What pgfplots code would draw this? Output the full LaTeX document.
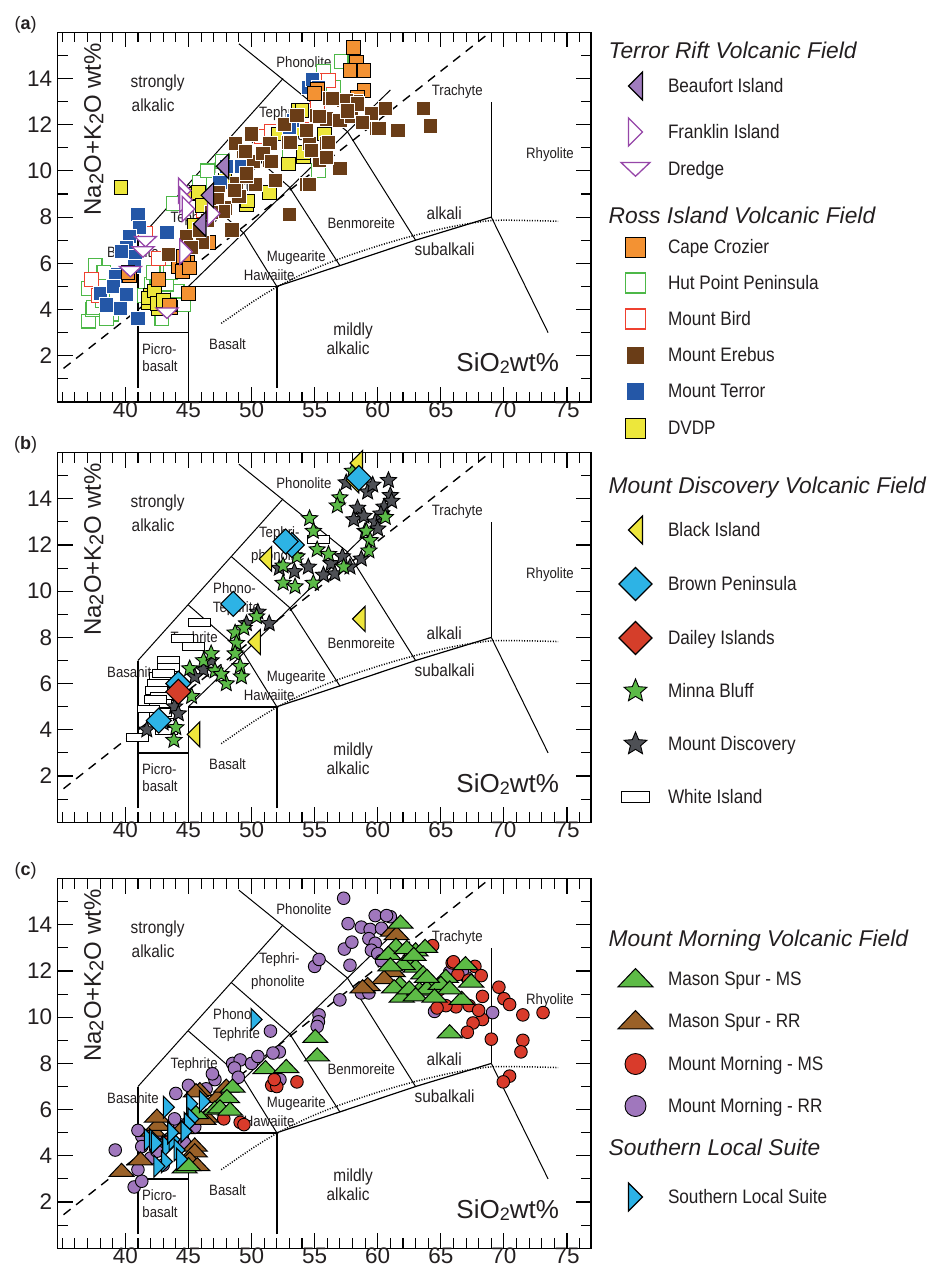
\documentclass[border=0pt]{standalone}
\usepackage{fontspec}
\setmainfont{Liberation Sans}
\newfontfamily\narrowfont[FakeStretch=0.88]{Liberation Sans}
\usepackage{pgfplots}
\pgfplotsset{compat=1.18}
\usetikzlibrary{plotmarks}

\definecolor{txt}{HTML}{231F20}
\definecolor{cCroz}{HTML}{F39233}
\definecolor{hutG}{HTML}{4DB848}
\definecolor{birdR}{HTML}{EF4130}
\definecolor{ereb}{HTML}{6A3D17}
\definecolor{terr}{HTML}{2457A7}
\definecolor{dvdp}{HTML}{EDE73B}
\definecolor{beauf}{HTML}{A07CBE}
\definecolor{purpL}{HTML}{9646A8}
\definecolor{blkI}{HTML}{EEE63C}
\definecolor{brnP}{HTML}{2DB3E5}
\definecolor{dail}{HTML}{D53E2A}
\definecolor{minna}{HTML}{5BBA47}
\definecolor{mdisc}{HTML}{4E5055}
\definecolor{msG}{HTML}{5DBB46}
\definecolor{msB}{HTML}{9A6128}
\definecolor{mmR}{HTML}{D93B2B}
\definecolor{mmP}{HTML}{A077BD}
\definecolor{slsB}{HTML}{2CB2E6}

\newcommand\labfont{\narrowfont\fontsize{15bp}{17bp}\selectfont}
\newcommand\bigfont{\narrowfont\fontsize{17.5bp}{20bp}\selectfont}
\newcommand\tickfont{\fontsize{22.5bp}{24bp}\selectfont}
\newcommand\legfont{\narrowfont\fontsize{19.5bp}{22bp}\selectfont}
\newcommand\headfont{\rmfamily\fontsize{22.8bp}{26bp}\selectfont\itshape}
% legend row height/depth
\newcommand\LE[3]{\addlegendentry[text height=#1bp, text depth=#2bp]{#3}}

\pgfdeclareplotmark{ltri}{%
  \pgfpathmoveto{\pgfqpoint{-.5\pgfplotmarksize}{0pt}}%
  \pgfpathlineto{\pgfqpoint{.5\pgfplotmarksize}{\pgfplotmarksize}}%
  \pgfpathlineto{\pgfqpoint{.5\pgfplotmarksize}{-\pgfplotmarksize}}%
  \pgfpathclose\pgfusepathqfillstroke}
\pgfdeclareplotmark{rtri}{%
  \pgfpathmoveto{\pgfqpoint{.5\pgfplotmarksize}{0pt}}%
  \pgfpathlineto{\pgfqpoint{-.5\pgfplotmarksize}{\pgfplotmarksize}}%
  \pgfpathlineto{\pgfqpoint{-.5\pgfplotmarksize}{-\pgfplotmarksize}}%
  \pgfpathclose\pgfusepathqfillstroke}
\pgfdeclareplotmark{dtri}{%
  \pgfpathmoveto{\pgfqpoint{-\pgfplotmarksize}{.45\pgfplotmarksize}}%
  \pgfpathlineto{\pgfqpoint{\pgfplotmarksize}{.45\pgfplotmarksize}}%
  \pgfpathlineto{\pgfqpoint{0pt}{-.5\pgfplotmarksize}}%
  \pgfpathclose\pgfusepathqfillstroke}
\pgfdeclareplotmark{utri}{%
  \pgfpathmoveto{\pgfqpoint{-\pgfplotmarksize}{-.45\pgfplotmarksize}}%
  \pgfpathlineto{\pgfqpoint{\pgfplotmarksize}{-.45\pgfplotmarksize}}%
  \pgfpathlineto{\pgfqpoint{0pt}{.6\pgfplotmarksize}}%
  \pgfpathclose\pgfusepathqfillstroke}
\pgfdeclareplotmark{mdia}{%
  \pgfpathmoveto{\pgfqpoint{0pt}{\pgfplotmarksize}}%
  \pgfpathlineto{\pgfqpoint{\pgfplotmarksize}{0pt}}%
  \pgfpathlineto{\pgfqpoint{0pt}{-\pgfplotmarksize}}%
  \pgfpathlineto{\pgfqpoint{-\pgfplotmarksize}{0pt}}%
  \pgfpathclose\pgfusepathqfillstroke}
\pgfdeclareplotmark{wrect}{%
  \pgfpathrectanglecorners{\pgfqpoint{-\pgfplotmarksize}{-.36\pgfplotmarksize}}{\pgfqpoint{\pgfplotmarksize}{.36\pgfplotmarksize}}%
  \pgfusepathqfillstroke}
\pgfdeclareplotmark{fstar}{%
  \pgfpathmoveto{\pgfqpoint{0pt}{\pgfplotmarksize}}%
  \pgfpathlineto{\pgfqpoint{-.2645\pgfplotmarksize}{.3641\pgfplotmarksize}}%
  \pgfpathlineto{\pgfqpoint{-.9511\pgfplotmarksize}{.3090\pgfplotmarksize}}%
  \pgfpathlineto{\pgfqpoint{-.4280\pgfplotmarksize}{-.1391\pgfplotmarksize}}%
  \pgfpathlineto{\pgfqpoint{-.5878\pgfplotmarksize}{-.8090\pgfplotmarksize}}%
  \pgfpathlineto{\pgfqpoint{0pt}{-.45\pgfplotmarksize}}%
  \pgfpathlineto{\pgfqpoint{.5878\pgfplotmarksize}{-.8090\pgfplotmarksize}}%
  \pgfpathlineto{\pgfqpoint{.4280\pgfplotmarksize}{-.1391\pgfplotmarksize}}%
  \pgfpathlineto{\pgfqpoint{.9511\pgfplotmarksize}{.3090\pgfplotmarksize}}%
  \pgfpathlineto{\pgfqpoint{.2645\pgfplotmarksize}{.3641\pgfplotmarksize}}%
  \pgfpathclose\pgfusepathqfillstroke}

\pgfplotsset{
  limg/.style={legend image code/.code={\draw[##1] plot coordinates {(0bp,6.5bp)};}},
  sCroz/.style={only marks, mark=square*, mark size=6.9bp, mark options={solid, fill=cCroz, draw=black, line width=0.9bp}},
  sHut/.style={only marks, mark=square*, mark size=6.9bp, mark options={solid, fill=white, draw=hutG, line width=1.1bp}},
  sBird/.style={only marks, mark=square*, mark size=6.9bp, mark options={solid, fill=white, draw=birdR, line width=1.1bp}},
  sEreb/.style={only marks, mark=square*, mark size=7.1bp, mark options={solid, fill=ereb, draw=white, line width=0.8bp}},
  sTerr/.style={only marks, mark=square*, mark size=7.1bp, mark options={solid, fill=terr, draw=white, line width=0.8bp}},
  sDvdp/.style={only marks, mark=square*, mark size=6.9bp, mark options={solid, fill=dvdp, draw=black, line width=0.9bp}},
  sBeau/.style={only marks, mark=ltri, mark size=12.5bp, mark options={solid, fill=beauf, draw=black, line width=1.1bp}},
  sFrank/.style={only marks, mark=rtri, mark size=12.5bp, mark options={solid, fill=white, draw=purpL, line width=1.3bp}},
  sDred/.style={only marks, mark=dtri, mark size=11bp, mark options={solid, fill=white, draw=purpL, line width=1.3bp}},
  sBlk/.style={only marks, mark=ltri, mark size=12.5bp, mark options={solid, fill=blkI, draw=black, line width=1.1bp}},
  sBrn/.style={only marks, mark=mdia, mark size=12.5bp, mark options={solid, fill=brnP, draw=black, line width=1.1bp}},
  sDai/.style={only marks, mark=mdia, mark size=12.5bp, mark options={solid, fill=dail, draw=black, line width=1.1bp}},
  sMin/.style={only marks, mark=fstar, mark size=8.5bp, mark options={solid, fill=minna, draw=black, line width=0.9bp}},
  sMdi/.style={only marks, mark=fstar, mark size=8.5bp, mark options={solid, fill=mdisc, draw=black, line width=0.9bp}},
  sWhi/.style={only marks, mark=wrect, mark size=11bp, mark options={solid, fill=white, draw=black, line width=1bp}},
  sMSg/.style={only marks, mark=utri, mark size=12.5bp, mark options={solid, fill=msG, draw=black, line width=1bp}},
  sMSb/.style={only marks, mark=utri, mark size=12.5bp, mark options={solid, fill=msB, draw=black, line width=1bp}},
  sMMr/.style={only marks, mark=*, mark size=6.3bp, mark options={solid, fill=mmR, draw=black, line width=0.9bp}},
  sMMp/.style={only marks, mark=*, mark size=6.3bp, mark options={solid, fill=mmP, draw=black, line width=0.9bp}},
  sSls/.style={only marks, mark=rtri, mark size=11bp, mark options={solid, fill=slsB, draw=black, line width=1.1bp}},
  common/.style={
    scale only axis, width=533.3bp, height=369.6bp,
    xmin=34.64, xmax=76.9, ymin=0, ymax=16,
    xtick={40,45,...,75}, minor xtick={35,36,...,76},
    ytick={2,4,...,14}, minor ytick={1,3,...,15},
    tick align=inside, major tick length=15bp, minor tick length=10bp,
    tick style={line width=1.1bp, black},
    axis line style={line width=1.3bp},
    ticklabel style={font=\tickfont, text=txt},
    yticklabel style={xshift=-2bp},
    xticklabel style={yshift=3.5bp},
    /pgf/number format/assume math mode=true,
    legend cell align=left,
    legend style={draw=none, fill=none, inner sep=0pt, outer sep=0pt, row sep=0pt,
      font=\legfont, text=txt, cells={anchor=base west}, nodes={inner sep=0pt, outer sep=0pt}},
  },
}

\newcommand\TAS{%
  \draw[line width=1.4bp] (axis cs:41,0.6) -- (axis cs:41,7);
  \draw[line width=1.4bp] (axis cs:41,3) -- (axis cs:45,3);
  \draw[line width=1.6bp] (axis cs:45,0.6) -- (axis cs:45,5) -- (axis cs:52,5);
  \draw[line width=1.6bp] (axis cs:52,0.6) -- (axis cs:52,5);
  \draw[line width=1.2bp] (axis cs:52,5) -- (axis cs:57,5.9) -- (axis cs:63,7) -- (axis cs:69,8);
  \draw[line width=1.6bp] (axis cs:69,8) -- (axis cs:69,13);
  \draw[line width=1bp] (axis cs:69,8) -- (axis cs:73.5,3);
  \draw[line width=1bp] (axis cs:41,7) -- (axis cs:52.5,14);
  \draw[line width=1bp] (axis cs:49,15.5) -- (axis cs:57.6,11.7) -- (axis cs:63,7);
  \draw[line width=1bp] (axis cs:45,9.4) -- (axis cs:49.4,7.3) -- (axis cs:52,5);
  \draw[line width=1bp] (axis cs:48.4,11.5) -- (axis cs:53,9.3) -- (axis cs:57,5.9);
  \draw[line width=1bp] (axis cs:45,5) -- (axis cs:61,13.5);
  \draw[line width=1.4bp, dash pattern=on 9bp off 7bp] (axis cs:35.1,1.45) -- (axis cs:69,16.04);
  \addplot[forget plot, smooth, no markers, line width=1.5bp, dash pattern=on 1bp off 1.6bp]
    coordinates {(47.6,3.4)(50,4.3)(52,4.97)(54.5,5.65)(57,6.2)(60,6.75)(63,7.22)(66,7.6)(69,7.85)(72,7.85)(74.3,7.82)};
  \node[font=\labfont, text=txt] at (axis cs:54.15,14.7) {Phonolite};
  \node[font=\labfont, text=txt] at (axis cs:66.3,13.45) {Trachyte};
  \node[font=\labfont, text=txt] at (axis cs:73.65,10.7) {Rhyolite};
  \node[font=\labfont, text=txt] at (axis cs:58.7,7.75) {Benmoreite};
  \node[font=\labfont, text=txt] at (axis cs:53.55,6.25) {Mugearite};
  \node[font=\labfont, text=txt] at (axis cs:51.4,5.5) {Hawaiite};
  \node[font=\labfont, text=txt] at (axis cs:48.1,2.5) {Basalt};
  \node[font=\labfont, text=txt] at (axis cs:42.7,2.28) {Picro-};
  \node[font=\labfont, text=txt] at (axis cs:42.75,1.57) {basalt};
  \node[font=\labfont, text=txt] at (axis cs:52.2,12.5) {Tephri-};
  \node[font=\labfont, text=txt] at (axis cs:52.1,11.5) {phonolite};
  \node[font=\labfont, text=txt] at (axis cs:48.65,10.12) {Phono-};
  \node[font=\labfont, text=txt] at (axis cs:48.8,9.26) {Tephrite};
  \node[font=\labfont, text=txt] at (axis cs:45.45,7.95) {Tephrite};
  \node[font=\labfont, text=txt] at (axis cs:40.6,6.5) {Basanite};
  \node[font=\bigfont, text=txt] at (axis cs:42.56,13.82) {strongly};
  \node[font=\bigfont, text=txt] at (axis cs:42.2,12.85) {alkalic};
  \node[font=\bigfont, text=txt] at (axis cs:65.27,8.16) {alkali};
  \node[font=\bigfont, text=txt] at (axis cs:65.3,6.6) {subalkali};
  \node[font=\bigfont, text=txt] at (axis cs:58.05,3.08) {mildly};
  \node[font=\bigfont, text=txt] at (axis cs:57.65,2.32) {alkalic};
  \node[font=\fontsize{26bp}{28bp}\selectfont, text=txt] at (axis cs:70.3,1.67) {SiO\raisebox{-0.08em}{\fontsize{18bp}{18bp}\selectfont 2}wt\%};
  \node[rotate=90, font=\fontsize{24bp}{26bp}\selectfont, text=txt] at (axis cs:37.5,11.8)
    {Na\raisebox{-0.1em}{\fontsize{20bp}{20bp}\selectfont 2}O+K\raisebox{-0.1em}{\fontsize{20bp}{20bp}\selectfont 2}O wt\%};
}

\begin{document}
\begin{tikzpicture}
\path[use as bounding box] (0,0) rectangle (932bp,-1270bp);
\node[font=\fontsize{18bp}{20bp}\selectfont, text=txt] at (25.6bp,-25bp) {(\textbf{a})};
\node[font=\fontsize{18bp}{20bp}\selectfont, text=txt] at (25.6bp,-445bp) {(\textbf{b})};
\node[font=\fontsize{18bp}{20bp}\selectfont, text=txt] at (25.6bp,-871bp) {(\textbf{c})};

% ---------------- panel (a)
\begin{axis}[common, at={(57.7bp,-401.9bp)}, anchor=south west,
  legend style={at={(1.05626,0.98999)}, anchor=north west, column sep=18bp}]
\addlegendimage{empty legend}\LE{22}{12.5}{\hspace*{-59.3bp}{\headfont Terror Rift Volcanic Field}}
\addlegendimage{sBeau, mark size=14bp, limg}\LE{22}{24}{Beaufort Island}
\addlegendimage{sFrank, mark size=14bp, limg}\LE{22}{15}{Franklin Island}
\addlegendimage{sDred, mark size=14.5bp, limg}\LE{22}{25.5}{Dredge}
\addlegendimage{empty legend}\LE{22}{8.5}{\hspace*{-59.3bp}{\headfont Ross Island Volcanic Field}}
\addlegendimage{sCroz, mark size=10bp, limg}\LE{22}{14}{Cape Crozier}
\addlegendimage{sHut, mark size=10bp, limg}\LE{22}{14}{Hut Point Peninsula}
\addlegendimage{sBird, mark size=10bp, limg}\LE{22}{14}{Mount Bird}
\addlegendimage{sEreb, mark size=9bp, limg}\LE{22}{14}{Mount Erebus}
\addlegendimage{sTerr, mark size=9bp, limg}\LE{22}{15}{Mount Terror}
\addlegendimage{sDvdp, mark size=10bp, limg}\LE{22}{10}{DVDP}
\TAS
\addplot[sHut, forget plot] coordinates {(37.6,5.9)(37.1,4.9)(37.1,3.5)(37.4,4.0)(38.9,3.8)(38.3,5.6)(37.5,4.1)(38.2,4.4)(42.1,5.1)(42.5,5.3)(42.2,5.6)(42.7,4.2)(44.1,4.8)(42.9,3.6)(43.3,5.1)(43.8,8.6)(45.9,9.5)(46.5,10.0)(47.7,10.4)(53.0,10.7)(55.3,10.0)(55.4,13.3)(55.7,14.3)(56.5,13.6)(57.1,14.75)(41.5,4.6)(43.0,4.5)(38.5,3.6)(44.6,4.2)(43.6,5.6)};
\addplot[sBird, forget plot] coordinates {(37.3,5.3)(37.9,4.6)(41.6,7.3)(42.6,6.2)(46.2,8.3)(50.8,11.5)(51.6,11.7)(54.1,12.6)(54.5,12.4)(55.6,13.9)(56.1,13.9)(55.2,12.9)};
\addplot[sDvdp, forget plot] coordinates {(39.65,9.3)(41.8,4.3)(42.0,4.6)(42.6,4.05)(41.8,4.5)(42.3,4.8)(42.5,4.25)(43.0,4.4)(45.5,7.65)(45.4,9.0)(45.8,9.05)(49.6,8.55)(49.7,8.7)(51.4,9.05)(50.8,10.7)(52.1,11.6)(53.7,12.6)(54.1,10.6)(54.1,10.8)(55.8,11.6)(54.0,12.6)(52.9,10.3)(53.3,11.8)(46.1,8.5)(47.9,9.6)};
\addplot[sTerr, forget plot] coordinates {(41.0,8.1)(41.1,7.55)(43.3,7.35)(40.3,7.15)(40.1,6.7)(39.7,6.5)(40.8,6.3)(39.4,5.5)(40.7,5.85)(39.2,5.45)(38.0,4.7)(39.05,5.0)(40.1,4.65)(38.5,4.2)(39.6,4.05)(41.0,3.6)(48.0,10.2)(49.2,10.2)(47.5,9.5)(54.5,13.6)(54.8,13.95)(55.3,13.6)(53.3,12.2)(53.0,11.9)};
\addplot[sCroz, forget plot] coordinates {(58.05,15.35)(58.3,14.7)(58.9,14.35)(57.8,14.35)(58.9,13.5)(58.4,13.2)(55.2,13.55)(55.0,13.35)(45.0,4.7)(42.6,5.3)(43.6,4.1)(40.3,5.45)(40.2,5.6)(44.9,6.05)(44.2,5.85)(44.5,5.65)(44.6,6.3)(45.1,5.8)(43.5,4.2)(46.6,6.9)};
\addplot[sEreb, forget plot] coordinates {(56.2,13.15)(57.3,13.05)(58.3,13.0)(59.4,12.5)(59.9,11.85)(61.5,11.75)(55.15,12.4)(55.95,12.25)(57.0,12.2)(57.9,12.35)(52.5,12.0)(52.9,11.25)(54.6,11.2)(55.95,11.2)(54.35,11.75)(49.35,10.85)(50.8,10.75)(48.7,11.2)(50.0,11.6)(51.45,11.2)(51.45,10.45)(50.15,10.4)(48.8,9.45)(50.3,9.4)(49.6,9.75)(47.35,9.05)(47.9,8.4)(54.35,9.4)(57.0,10.1)(55.4,10.45)(53.0,8.1)(63.6,12.7)(64.15,11.95)(61.6,11.75)(60.1,11.85)(59.5,12.5)(54.6,9.4)(48.45,7.45)(46.1,6.9)(44.85,7.15)(43.4,6.4)(47.3,8.75)(47.75,8.25)(49.6,9.9)(49.5,10.85)(50.9,10.75)(51.55,10.4)(52.6,12.0)(53.1,11.25)(55.35,12.35)(56.1,11.25)(54.75,10.9)(55.95,10.6)(56.4,13.15)(57.5,13.05)(58.4,12.9)(46.5,7.85)(45.9,7.45)(49.0,8.9)(48.65,9.15)(46.8,8.2)(45.2,6.7)(58.8,12.1)(60.6,12.7)(53.6,12.4)(57.6,12.6)(51.9,9.6)};
\addplot[sDred, forget plot] coordinates {(41.6,6.95)(41.4,6.5)(40.4,5.65)(43.3,3.85)};
\addplot[sFrank, forget plot] coordinates {(44.7,9.15)(44.8,8.75)(45.0,8.35)(47.0,8.15)(44.8,6.5)};
\addplot[sBeau, forget plot] coordinates {(47.7,10.2)(46.5,8.95)(45.9,7.7)};
\end{axis}

% ---------------- panel (b)
\begin{axis}[common, at={(57.7bp,-822.2bp)}, anchor=south west,
  legend style={at={(1.05250,0.95022)}, anchor=north west, column sep=16bp}]
\addlegendimage{empty legend}\LE{22}{21.5}{\hspace*{-59.3bp}{\headfont Mount Discovery Volcanic Field}}
\addlegendimage{sBlk, mark size=14bp, limg}\LE{22}{31}{Black Island}
\addlegendimage{sBrn, mark size=16.5bp, limg}\LE{22}{31}{Brown Peninsula}
\addlegendimage{sDai, mark size=16.5bp, limg}\LE{22}{31}{Dailey Islands}
\addlegendimage{sMin, mark size=12bp, limg}\LE{22}{31}{Minna Bluff}
\addlegendimage{sMdi, mark size=12bp, limg}\LE{22}{31}{Mount Discovery}
\addlegendimage{sWhi, mark size=14bp, limg}\LE{22}{10}{White Island}
\TAS
\addplot[sWhi, forget plot] coordinates {(45.9,8.65)(44.5,7.95)(45.4,7.6)(43.45,7.0)(43.4,6.7)(42.75,6.3)(42.6,6.0)(42.5,5.7)(42.9,5.45)(42.75,5.15)(42.75,4.75)(41.8,4.9)(43.25,3.95)(43.1,4.3)(41.0,3.65)(55.3,12.25)(43.0,6.45)(42.4,5.3)};
\addplot[sMdi, forget plot] coordinates {(60.85,14.8)(61.0,14.15)(60.5,13.65)(59.2,14.3)(58.4,13.6)(58.1,13.1)(58.9,13.25)(59.8,13.0)(60.25,13.35)(59.6,14.6)(60.0,12.7)(58.7,11.4)(57.8,11.05)(56.3,11.2)(55.7,10.7)(56.6,10.75)(54.5,11.05)(53.4,10.85)(52.2,11.0)(50.5,9.1)(51.4,8.6)(49.6,8.6)(46.8,7.0)(46.2,6.6)(45.5,6.3)(43.9,5.0)(44.2,4.7)(41.7,4.0)(43.0,4.3)(61.1,13.9)(57.5,14.7)(59.0,12.6)(57.2,11.5)};
\addplot[sMin, forget plot] coordinates {(57.0,14.05)(56.8,13.7)(58.0,15.2)(59.1,12.6)(59.4,12.2)(59.3,11.75)(60.6,13.2)(54.6,13.15)(54.9,12.6)(55.2,11.8)(52.5,11.1)(53.6,11.5)(57.3,11.05)(52.5,10.35)(53.45,10.2)(54.9,10.35)(50.4,8.9)(48.7,8.2)(49.4,8.4)(48.8,7.75)(48.7,7.3)(49.1,6.75)(49.2,6.3)(48.0,6.0)(45.1,6.65)(46.2,7.0)(47.1,6.55)(45.25,5.45)(43.85,3.55)(44.0,4.1)(47.6,6.4)(46.8,7.3)(56.1,11.6)};
\addplot[sBlk, forget plot] coordinates {(58.3,15.55)(58.0,14.8)(51.1,11.4)(50.2,7.8)(58.5,8.8)(45.4,3.8)};
\addplot[sBrn, forget plot] coordinates {(58.5,14.9)(53.2,12.0)(52.7,12.15)(48.55,9.45)(44.2,6.0)(42.65,4.4)};
\addplot[sDai, forget plot] coordinates {(44.2,5.65)};
\end{axis}

% ---------------- panel (c)
\begin{axis}[common, at={(57.7bp,-1248.2bp)}, anchor=south west,
  legend style={at={(1.05063,0.87717)}, anchor=north west, column sep=15bp}]
\addlegendimage{empty legend}\LE{22}{17.5}{\hspace*{-59.3bp}{\headfont Mount Morning Volcanic Field}}
\addlegendimage{sMSg, mark size=17.5bp, limg}\LE{22}{20}{Mason Spur - MS}
\addlegendimage{sMSb, mark size=17.5bp, limg}\LE{22}{21}{Mason Spur - RR}
\addlegendimage{sMMr, mark size=10.5bp, limg}\LE{22}{20}{Mount Morning - MS}
\addlegendimage{sMMp, mark size=10.5bp, limg}\LE{22}{20.5}{Mount Morning - RR}
\addlegendimage{empty legend}\LE{22}{26.5}{\hspace*{-59.3bp}{\headfont Southern Local Suite}}
\addlegendimage{sSls, mark size=14bp, limg}\LE{22}{10}{Southern Local Suite}
\TAS
\addplot[sMMp, forget plot] coordinates {(57.3,15.15)(57.65,14.05)(59.8,14.4)(61.0,14.35)(58.7,13.9)(59.4,13.8)(60.3,13.85)(59.3,13.4)(59.8,13.2)(57.35,12.95)(57.95,13.25)(59.5,12.9)(60.0,12.75)(60.3,12.45)(57.8,12.25)(55.0,12.2)(55.35,12.5)(58.7,11.05)(59.3,11.05)(57.0,10.75)(55.35,10.1)(55.3,9.8)(55.2,9.6)(51.5,9.4)(52.2,8.5)(51.7,8.45)(48.5,8.0)(49.1,8.15)(50.0,8.0)(50.5,8.3)(48.65,7.8)(48.95,7.4)(47.1,7.3)(45.0,7.05)(46.9,7.55)(52.25,7.3)(64.5,10.25)(65.7,11.95)(67.1,11.7)(66.7,12.0)(69.1,10.2)(39.2,4.25)(41.3,4.85)(41.0,5.1)(40.7,2.65)(41.3,2.9)(44.7,4.55)(41.3,4.4)(42.0,3.9)(42.5,4.2)(43.3,4.6)(44.3,5.35)(45.5,5.25)(43.9,5.6)(42.4,4.9)(41.0,3.4)(43.0,3.6)(60.7,14.4)(44.0,6.7)(46.4,6.9)};
\addplot[sMMr, forget plot] coordinates {(64.35,13.1)(65.9,12.35)(67.7,12.2)(66.35,11.85)(65.1,11.5)(68.3,10.9)(69.6,11.3)(70.0,10.8)(70.45,10.55)(66.2,10.45)(65.4,10.5)(64.7,10.4)(67.25,10.5)(68.3,9.9)(67.55,9.75)(67.1,9.35)(69.0,9.05)(71.5,10.1)(73.1,10.2)(71.5,9.0)(71.35,8.5)(70.45,7.45)(69.95,7.2)(51.6,7.05)(52.0,7.0)(51.8,7.3)(53.6,7.2)(49.1,5.45)(49.4,5.35)(47.8,5.6)(43.4,4.6)(67.2,11.6)(68.0,10.3)(66.0,12.4)(64.9,11.2)(68.2,11.8)};
\addplot[sMSb, forget plot] coordinates {(61.2,13.75)(61.5,13.6)(61.2,12.0)(60.5,11.7)(59.2,11.4)(58.8,11.3)(39.7,3.35)(41.2,3.85)(42.2,5.1)(42.6,5.35)(42.5,5.7)(45.9,6.85)(45.6,6.8)(47.3,6.55)(48.0,7.0)(46.4,5.7)(46.2,5.6)(45.5,4.45)(45.5,4.2)(45.1,3.85)(45.7,3.6)(44.5,5.2)};
\addplot[sMSg, forget plot] coordinates {(61.8,14.1)(61.45,13.1)(60.85,12.75)(63.0,12.9)(63.75,13.05)(62.4,12.45)(63.0,12.2)(63.6,11.9)(61.75,11.45)(64.2,11.45)(65.4,11.75)(66.95,12.3)(67.4,11.55)(66.65,10.8)(61.9,10.9)(63.3,11.2)(64.8,11.3)(65.7,9.35)(55.05,9.15)(55.2,8.35)(51.1,7.8)(52.75,7.85)(48.5,7.0)(48.05,6.55)(47.1,6.05)(45.6,5.85)(44.7,3.5)(45.0,3.6)(62.0,12.3)(61.3,11.3)(62.5,11.25)(63.9,11.25)(65.0,11.45)(65.7,11.25)(63.0,10.95)(64.5,10.9)(62.3,13.0)(62.85,12.7)(61.0,12.25)(63.9,11.75)(47.5,6.1)(48.3,6.0)};
\addplot[sSls, forget plot] coordinates {(50.4,9.9)(43.45,6.1)(45.3,6.25)(46.3,6.35)(45.4,5.6)(45.1,5.4)(41.95,4.7)(42.35,4.7)(43.4,4.4)(43.9,4.7)(44.3,4.25)(44.5,3.85)(43.3,3.75)(42.5,4.55)(44.85,5.05)(42.7,3.55)(43.8,5.0)};
\end{axis}
\end{tikzpicture}
\end{document}
